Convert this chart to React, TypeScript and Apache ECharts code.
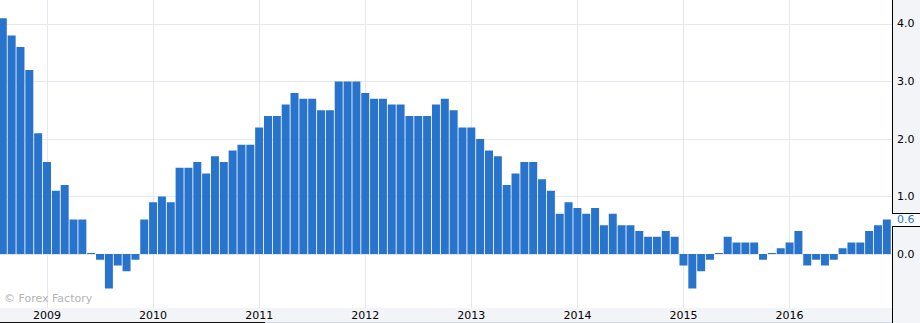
import React, { useEffect, useRef } from 'react';
import * as echarts from 'echarts';

// Year-on-year values, one array per calendar year (2008 starts in August)
const cpi2008 = [4.1, 3.8, 3.6, 3.2, 2.1];
const cpi2009 = [1.6, 1.1, 1.2, 0.6, 0.6, 0.0, -0.1, -0.6, -0.2, -0.3, -0.1, 0.6];
const cpi2010 = [0.9, 1.0, 0.9, 1.5, 1.5, 1.6, 1.4, 1.7, 1.6, 1.8, 1.9, 1.9];
const cpi2011 = [2.2, 2.4, 2.4, 2.6, 2.8, 2.7, 2.7, 2.5, 2.5, 3.0, 3.0, 3.0];
const cpi2012 = [2.8, 2.7, 2.7, 2.6, 2.6, 2.4, 2.4, 2.4, 2.6, 2.7, 2.5, 2.2];
const cpi2013 = [2.2, 2.0, 1.8, 1.7, 1.2, 1.4, 1.6, 1.6, 1.3, 1.1, 0.7, 0.9];
const cpi2014 = [0.8, 0.7, 0.8, 0.5, 0.7, 0.5, 0.5, 0.4, 0.3, 0.3, 0.4, 0.3];
const cpi2015 = [-0.2, -0.6, -0.3, -0.1, 0.0, 0.3, 0.2, 0.2, 0.2, -0.1, 0.0, 0.1];
const cpi2016 = [0.2, 0.4, -0.2, -0.1, -0.2, -0.1, 0.1, 0.2, 0.2, 0.4, 0.5, 0.6];

const years = [2008, 2009, 2010, 2011, 2012, 2013, 2014, 2015, 2016];
const yearValues = [cpi2008, cpi2009, cpi2010, cpi2011, cpi2012, cpi2013, cpi2014, cpi2015, cpi2016];
const firstMonthIndex = [7, 0, 0, 0, 0, 0, 0, 0, 0]; // 0 = January
const baseYear = 2009; // x = months since January of baseYear
const watermark = '© Forex Factory';

const FONT = 'DejaVu Sans';
const BAR = '#2874cc';
const GRID = '#e6e7ef';

function buildPoints(): [number, number][] {
  const pts: [number, number][] = [];
  years.forEach((y, yi) => {
    yearValues[yi].forEach((v, k) => {
      pts.push([(y - baseYear) * 12 + firstMonthIndex[yi] + k, v]);
    });
  });
  return pts;
}

export default function App() {
  const ref = useRef<HTMLDivElement>(null);
  useEffect(() => {
    const el = ref.current!;
    const chart = echarts.init(el, null, { renderer: 'svg' });
    const points = buildPoints();
    const option: any = {
      animation: false,
      backgroundColor: '#f3f4f8',
      grid: {
        left: 0,
        right: 28,
        top: 0,
        bottom: 15,
        show: true,
        backgroundColor: '#ffffff',
        borderWidth: 0,
        containLabel: false,
        outerBoundsMode: 'none',
      },
      xAxis: {
        type: 'value',
        min: -5.3167,
        max: 95.5882,
        minInterval: 12,
        maxInterval: 12,
        axisLine: { show: false },
        axisTick: { show: false },
        splitLine: {
          show: true,
          showMinLine: false,
          showMaxLine: false,
          lineStyle: { color: GRID, width: 1 },
        },
        axisLabel: {
          show: true,
          margin: 2,
          color: '#000',
          fontFamily: FONT,
          fontSize: 11,
          showMinLabel: false,
          showMaxLabel: false,
          formatter: (v: number) =>
            Math.abs(v - Math.round(v / 12) * 12) < 1e-6 ? String(baseYear + Math.round(v / 12)) : '',
        },
      },
      yAxis: {
        type: 'value',
        position: 'right',
        min: -0.93913,
        max: 4.41739,
        minInterval: 1,
        maxInterval: 1,
        axisLine: { show: false },
        axisTick: { show: false },
        splitLine: {
          show: true,
          showMinLine: false,
          showMaxLine: false,
          lineStyle: { color: GRID, width: 1 },
        },
        axisLabel: {
          show: true,
          margin: 5,
          color: '#000',
          fontFamily: FONT,
          fontSize: 11,
          showMinLabel: false,
          showMaxLabel: false,
          formatter: (v: number) => (Math.abs(v - Math.round(v)) < 1e-6 ? v.toFixed(1) : ''),
        },
      },
      series: [
        {
          type: 'bar',
          data: points,
          barWidth: 8,
          barMinHeight: 1,
          silent: true,
          itemStyle: { color: BAR },
        },
      ],
    };
    chart.setOption(option);

    const lastVal = points[points.length - 1][1];
    const ly = chart.convertToPixel({ yAxisIndex: 0 }, lastVal) as number;
    const nTop = Math.round(ly - 6.5) + 0.5;
    const nBot = Math.round(ly + 6.5) + 0.5;
    const ax = 892.5;
    chart.setOption({
      graphic: {
        elements: [
          { type: 'rect', z: 100, shape: { x: 893, y: nTop, width: 27, height: nBot - nTop }, style: { fill: '#ffffff' } },
          { type: 'line', z: 101, shape: { x1: ax, y1: 0, x2: ax, y2: nTop }, style: { stroke: '#000', lineWidth: 1 } },
          { type: 'line', z: 101, shape: { x1: ax, y1: nBot, x2: ax, y2: 323 }, style: { stroke: '#000', lineWidth: 1 } },
          { type: 'line', z: 101, shape: { x1: 892, y1: nTop, x2: 920, y2: nTop }, style: { stroke: '#000', lineWidth: 1 } },
          { type: 'line', z: 101, shape: { x1: 892, y1: nBot, x2: 920, y2: nBot }, style: { stroke: '#000', lineWidth: 1 } },
          {
            type: 'text', z: 102, x: 897, y: ly,
            style: { text: lastVal.toFixed(1), fill: BAR, font: `11px "${FONT}"`, textVerticalAlign: 'middle', verticalAlign: 'middle' },
          },
          {
            type: 'text', z: 102, x: 4, y: 298,
            style: { text: watermark, fill: '#b3b3b3', font: `11px "${FONT}"`, textVerticalAlign: 'middle', verticalAlign: 'middle' },
          },
          { type: 'line', z: 101, shape: { x1: 0, y1: 322.5, x2: 265, y2: 322.5 }, style: { stroke: '#111', lineWidth: 1 } },
          { type: 'line', z: 101, shape: { x1: 265, y1: 322.5, x2: 892, y2: 322.5 }, style: { stroke: '#d4d6de', lineWidth: 1 } },
        ],
      },
    });
    return () => chart.dispose();
  }, []);
  return <div ref={ref} style={{ position: 'fixed', left: 0, top: 0, width: 920, height: 323 }} />;
}
